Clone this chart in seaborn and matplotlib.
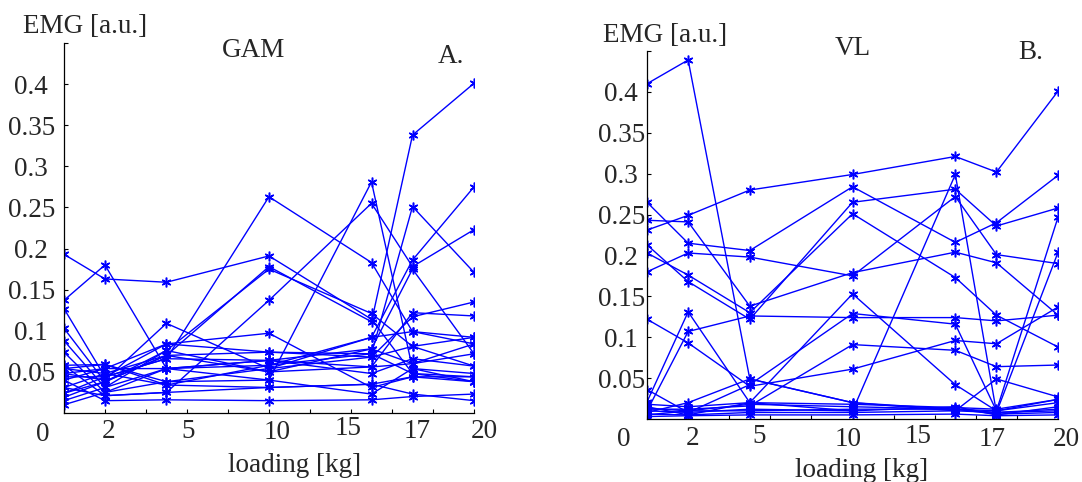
import numpy as np
import pandas as pd
import matplotlib.pyplot as plt
import seaborn as sns

# loading levels [kg]
loads = [0, 2, 5, 10, 15, 17, 20]

# EMG [a.u.] of GAM, one row per subject
gam = [
    [0.193, 0.163, 0.159, 0.191, 0.114, 0.048, 0.044],
    [0.137, 0.180, 0.054, 0.064, 0.078, 0.060, 0.084],
    [0.127, 0.044, 0.066, 0.263, 0.183, 0.099, 0.092],
    [0.103, 0.038, 0.070, 0.178, 0.111, 0.338, 0.401],
    [0.088, 0.031, 0.076, 0.175, 0.121, 0.081, 0.057],
    [0.074, 0.025, 0.054, 0.040, 0.281, 0.054, 0.038],
    [0.058, 0.021, 0.025, 0.137, 0.255, 0.178, 0.223],
    [0.054, 0.059, 0.034, 0.058, 0.072, 0.251, 0.171],
    [0.048, 0.040, 0.109, 0.054, 0.092, 0.186, 0.275],
    [0.040, 0.054, 0.084, 0.097, 0.031, 0.044, 0.038],
    [0.031, 0.048, 0.070, 0.074, 0.068, 0.117, 0.135],
    [0.024, 0.044, 0.066, 0.064, 0.056, 0.122, 0.118],
    [0.019, 0.038, 0.076, 0.050, 0.078, 0.175, 0.072],
    [0.015, 0.031, 0.054, 0.058, 0.092, 0.099, 0.084],
    [0.010, 0.025, 0.038, 0.054, 0.068, 0.081, 0.092],
    [0.054, 0.048, 0.034, 0.031, 0.035, 0.023, 0.015],
    [0.040, 0.015, 0.016, 0.015, 0.016, 0.020, 0.023],
    [0.048, 0.054, 0.054, 0.064, 0.048, 0.066, 0.057],
    [0.058, 0.059, 0.038, 0.040, 0.023, 0.054, 0.048],
    [0.031, 0.021, 0.025, 0.031, 0.035, 0.044, 0.044],
    [0.024, 0.038, 0.070, 0.050, 0.056, 0.060, 0.072],
    [0.044, 0.044, 0.084, 0.074, 0.072, 0.048, 0.038],
]

# EMG [a.u.] of VL, one row per subject
vl = [
    [0.410, 0.439, 0.049, 0.020, 0.012, 0.008, 0.012],
    [0.231, 0.249, 0.280, 0.299, 0.321, 0.302, 0.401],
    [0.265, 0.215, 0.206, 0.284, 0.216, 0.240, 0.298],
    [0.243, 0.241, 0.138, 0.179, 0.204, 0.191, 0.127],
    [0.213, 0.168, 0.122, 0.265, 0.281, 0.236, 0.258],
    [0.203, 0.176, 0.130, 0.251, 0.173, 0.127, 0.088],
    [0.180, 0.203, 0.198, 0.175, 0.272, 0.201, 0.190],
    [0.122, 0.093, 0.040, 0.061, 0.096, 0.092, 0.137],
    [0.021, 0.131, 0.020, 0.153, 0.042, 0.010, 0.024],
    [0.010, 0.107, 0.126, 0.124, 0.124, 0.120, 0.127],
    [0.036, 0.008, 0.042, 0.129, 0.116, 0.010, 0.247],
    [0.015, 0.005, 0.020, 0.010, 0.299, 0.008, 0.204],
    [0.012, 0.012, 0.016, 0.091, 0.084, 0.064, 0.066],
    [0.008, 0.020, 0.049, 0.020, 0.010, 0.049, 0.027],
    [0.005, 0.010, 0.010, 0.012, 0.012, 0.010, 0.020],
    [0.010, 0.008, 0.012, 0.010, 0.015, 0.005, 0.015],
    [0.006, 0.005, 0.008, 0.008, 0.010, 0.008, 0.010],
    [0.013, 0.010, 0.018, 0.015, 0.012, 0.006, 0.008],
    [0.003, 0.004, 0.005, 0.005, 0.006, 0.004, 0.005],
    [0.018, 0.015, 0.020, 0.018, 0.014, 0.012, 0.024],
]

xtick_text = ['0', '2', '5', '10', '15', '17', '20']
ytick_vals = [0.05, 0.1, 0.15, 0.2, 0.25, 0.3, 0.35, 0.4, 0.45]
ytick_text = ['0.05', '0.1', '0.15', '0.2', '0.25', '0.3', '0.35', '0.4', '']

# where the loose x labels sit (data x, axes y) -- they are not on the ticks
xlab_a = ([-1.05, 2.16, 6.05, 10.4, 13.85, 17.2, 20.5],
          [-0.058, -0.051, -0.049, -0.054, -0.043, -0.051, -0.051])
xlab_b = ([-1.12, 2.2, 5.46, 9.8, 13.2, 16.8, 20.4],
          [-0.057, -0.054, -0.048, -0.057, -0.048, -0.057, -0.057])


def to_long(rows):
    recs = []
    for i, r in enumerate(rows):
        for x, v in zip(loads, r):
            recs.append((i, x, v))
    return pd.DataFrame(recs, columns=['subject', 'load', 'emg'])


sns.set_style('ticks')
plt.rcParams['font.family'] = ['Liberation Serif', 'DejaVu Serif']

fig = plt.figure(figsize=(10.82, 4.82), dpi=100)
ax_a = fig.add_axes([0.0591, 0.1432, 0.379, 0.7676])
ax_b = fig.add_axes([0.598, 0.1307, 0.3799, 0.7635])

blue = '#0000ff'
fs = 19.5

for ax, rows, xlab, ypad in [(ax_a, gam, xlab_a, 23.5), (ax_b, vl, xlab_b, 18.5)]:
    df = to_long(rows)
    sns.lineplot(data=df, x='load', y='emg', units='subject', estimator=None,
                 color=blue, lw=1.0, marker=(6, 2, 0), markersize=7,
                 mec=blue, mew=1.1, legend=False, ax=ax)
    ax.set_xlim(0, 20)
    ax.set_ylim(0, 0.45)
    ax.set_xticks(np.arange(0, 21, 2))
    ax.set_xticklabels([])
    ax.set_yticks(ytick_vals)
    ax.set_yticklabels(ytick_text, fontsize=fs, ha='center')
    ax.tick_params(axis='both', direction='in', length=3, width=0.8, color='black')
    ax.tick_params(axis='y', pad=ypad)
    sns.despine(ax=ax)
    for s in ['left', 'bottom']:
        ax.spines[s].set_linewidth(0.9)
        ax.spines[s].set_color('black')
    ax.set_xlabel('')
    ax.set_ylabel('')
    for t, xp, yp in zip(xtick_text, xlab[0], xlab[1]):
        ax.text(xp, yp, t, transform=ax.get_xaxis_transform(), fontsize=fs,
                ha='center', va='center', clip_on=False)

fig.text(0.0786, 0.944, 'EMG [a.u.]', fontsize=fs, ha='center', va='center')
fig.text(0.2348, 0.896, 'GAM', fontsize=fs, ha='center', va='center')
fig.text(0.417, 0.882, 'A.', fontsize=fs, ha='center', va='center')
fig.text(0.2726, 0.035, 'loading [kg]', fontsize=fs, ha='center', va='center')

fig.text(0.6146, 0.927, 'EMG [a.u.]', fontsize=fs, ha='center', va='center')
fig.text(0.788, 0.900, 'VL', fontsize=fs, ha='center', va='center')
fig.text(0.953, 0.892, 'B.', fontsize=fs, ha='center', va='center')
fig.text(0.7967, 0.024, 'loading [kg]', fontsize=fs, ha='center', va='center')

fig.savefig('out.png', dpi=100, facecolor='white')
